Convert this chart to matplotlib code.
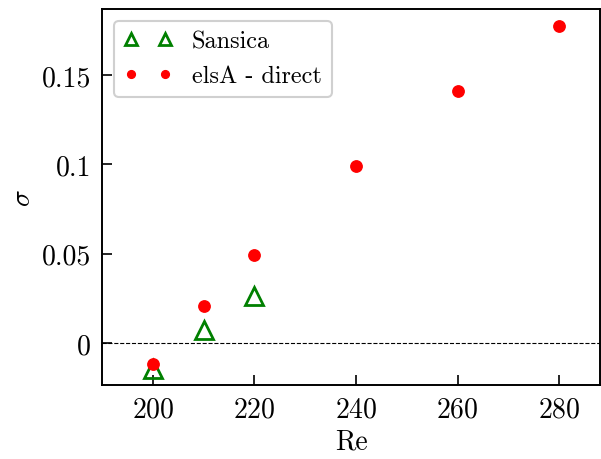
import matplotlib
matplotlib.use("Agg")
import matplotlib.pyplot as plt
from matplotlib.ticker import FuncFormatter

plt.rcParams["font.family"] = "serif"
plt.rcParams["font.serif"] = ["cmr10"]
plt.rcParams["mathtext.fontset"] = "cm"
plt.rcParams["axes.formatter.use_mathtext"] = True

re_sansica = [200, 210, 220]
sigma_sansica = [-0.0146, 0.0073, 0.0263]

re_elsa = [200, 210, 220, 240, 260, 280]
sigma_elsa = [-0.0118, 0.0207, 0.0493, 0.0991, 0.141, 0.1775]

fig = plt.figure(figsize=(6.01, 4.6), dpi=100)
ax = fig.add_axes([102 / 601, 1 - 386 / 460, 498 / 601, 376 / 460])

ax.axhline(0, color="black", linestyle="--", linewidth=0.8)
ax.plot(re_sansica, sigma_sansica, linestyle="none", marker="^", markersize=12.5,
        markerfacecolor="none", markeredgecolor="green", markeredgewidth=2,
        label="Sansica")
ax.plot(re_elsa, sigma_elsa, linestyle="none", marker="o", markersize=8.2,
        color="red", label="elsA - direct")

ax.set_xlim(190, 288)
ax.set_ylim(-0.0235, 0.187)
ax.set_xticks([200, 220, 240, 260, 280])
ax.set_yticks([0, 0.05, 0.1, 0.15])
ax.yaxis.set_major_formatter(FuncFormatter(lambda v, p: "%g" % v))

ax.tick_params(direction="in", length=7, width=1.2, labelsize=20, pad=8)
for s in ax.spines.values():
    s.set_linewidth(1.4)

ax.set_xlabel("Re", fontsize=20)
ax.set_ylabel(r"$\sigma$", fontsize=20)

leg = ax.legend(loc="upper left", numpoints=2, fontsize=17.5, framealpha=1,
                edgecolor="#d0d0d0", fancybox=True, markerscale=0.68,
                borderaxespad=0.5, handletextpad=0.8)
leg.get_frame().set_linewidth(1.5)

fig.savefig("out.png", dpi=100)
